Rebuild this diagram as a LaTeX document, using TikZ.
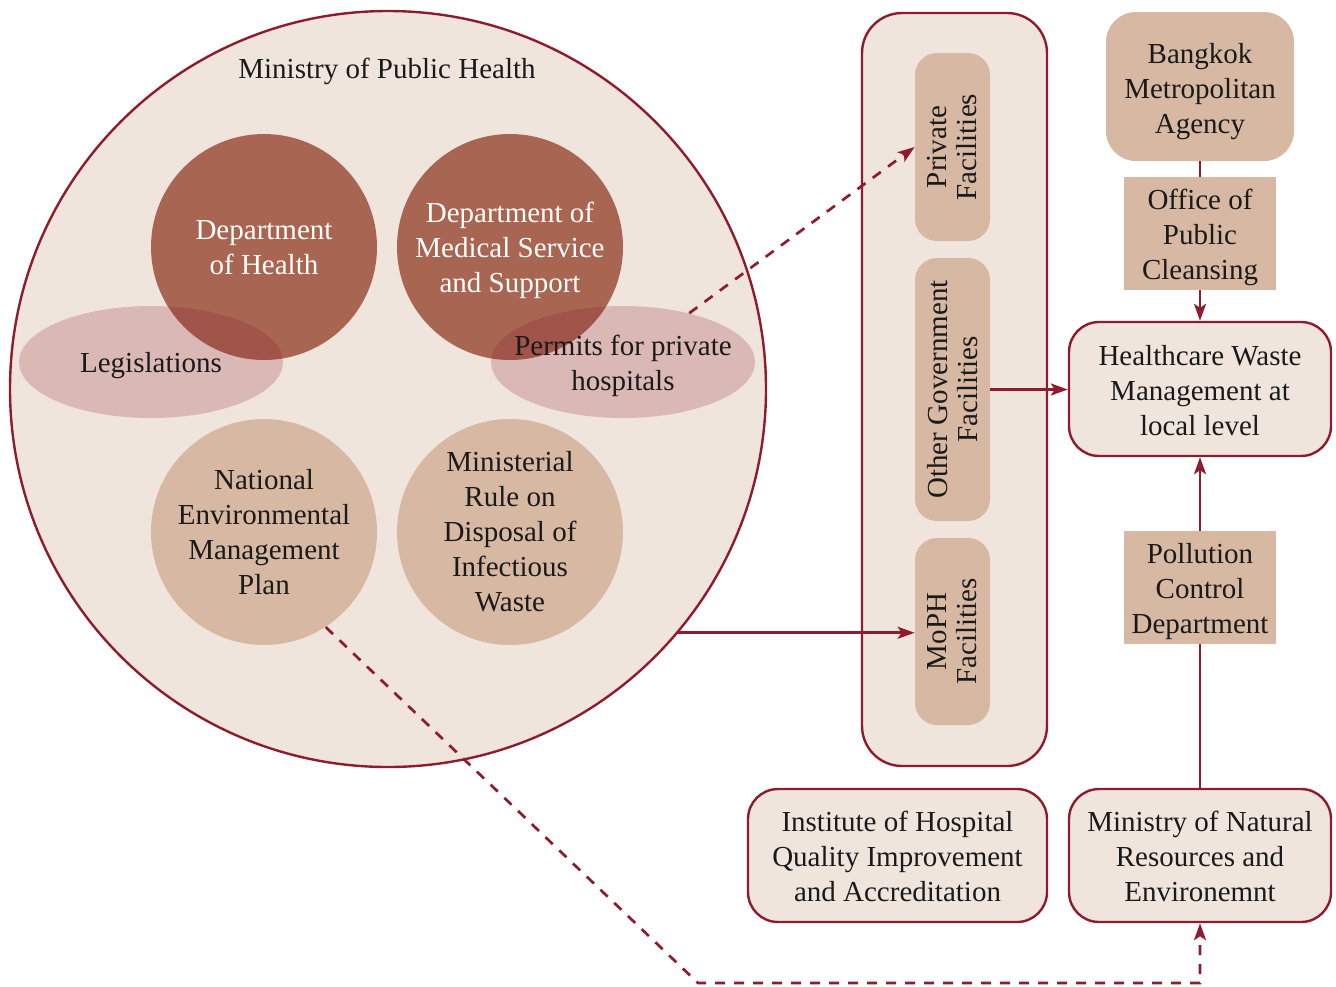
\documentclass[tikz,border=0pt]{standalone}
\usepackage{fontspec}
\setmainfont{Liberation Serif}
\usetikzlibrary{shapes.geometric,arrows.meta}
\definecolor{mar}{HTML}{8C1C2E}
\definecolor{lite}{HTML}{F0E5DD}
\definecolor{tanc}{HTML}{D7B8A2}
\definecolor{darkc}{HTML}{A86551}
\definecolor{txt}{HTML}{1A1A1A}
\begin{document}
\begin{tikzpicture}[x=0.5pt,y=-0.5pt,
  font=\fontsize{14.5}{17.5}\selectfont, text=txt,
  bdr/.style={draw=mar,line width=1.2pt,fill=lite},
  wtxt/.style={text=white,align=center,fill opacity=1,text opacity=1},
  btxt/.style={text=txt,align=center,fill opacity=1,text opacity=1},
  rot/.style={rotate=90,align=center,text=txt,font=\fontsize{14.5}{15}\selectfont},
  dcirc/.style={circle,fill=darkc,minimum size=113pt,inner sep=0pt},
  tcirc/.style={circle,fill=tanc,minimum size=113pt,inner sep=0pt},
  pell/.style={ellipse,fill=mar,fill opacity=0.22,minimum width=132pt,minimum height=56pt,inner sep=0pt},
  fbox/.style={rectangle,rounded corners=11pt,fill=tanc,minimum width=37.5pt,inner sep=0pt},
  sqbox/.style={rectangle,fill=tanc,minimum width=76pt,minimum height=56.5pt,inner sep=0pt},
  rbox/.style={rectangle,bdr,rounded corners=15pt,minimum height=67pt},
  plain/.style={draw=mar,line width=1.35pt},
  conn/.style={plain,-{Stealth[length=8.5pt,width=6pt,inset=2pt]}},
  dconn/.style={conn,dash pattern=on 5pt off 4.5pt}
]
\useasboundingbox (0,0) rectangle (1336,986);

% Ministry of Public Health
\node[circle,bdr,minimum size=378pt,inner sep=0pt] (mph) at (388,389) {};
\node (title) at (387,71) {Ministry of Public Health};
\node[dcirc,label={[wtxt,yshift=-0.5pt]center:Department\\of Health}] (doh) at (264,247) {};
\node[dcirc,label={[wtxt,yshift=-1.5pt]center:Department of\\Medical Service\\and Support}] (dms) at (510,247) {};
\node[tcirc,label={[btxt]center:National\\Environmental\\Management\\Plan}] (nemp) at (264,532) {};
\node[tcirc,label={[btxt]center:Ministerial\\Rule on\\Disposal of\\Infectious\\Waste}] (mrule) at (510,532) {};
\node[pell,label={[btxt,yshift=-2pt]center:Legislations}] (leg) at (151,362) {};
\node[pell,label={[btxt,yshift=-2pt]center:Permits for private\\hospitals}] (perm) at (623,362) {};

% facilities container
\node[rectangle,bdr,rounded corners=20pt,minimum width=92.5pt,minimum height=376.5pt] (cont) at (954.5,389.5) {};
\node[fbox,minimum height=94pt,label={[rot]center:Private\\Facilities}] (priv) at (952.5,147) {};
\node[fbox,minimum height=131.5pt,label={[rot]center:Other Government\\Facilities}] (ogf) at (952.5,389.5) {};
\node[fbox,minimum height=93.5pt,label={[rot]center:MoPH\\Facilities}] (moph) at (952.5,631.5) {};

% right column
\node[rectangle,rounded corners=15pt,fill=tanc,minimum width=94pt,minimum height=74.5pt,label={[btxt,yshift=-2.5pt]center:Bangkok\\Metropolitan\\Agency}] (bma) at (1200,86.5) {};
\node[sqbox,label={[btxt,yshift=-2pt]center:Office of\\Public\\Cleansing}] (opc) at (1200,233.5) {};
\node[rbox,minimum width=131pt,label={[btxt,yshift=-1pt]center:Healthcare Waste\\Management at\\local level}] (hcw) at (1200,389) {};
\node[sqbox,label={[btxt,yshift=-2pt]center:Pollution\\Control\\Department}] (pcd) at (1200,587.5) {};
\node[rbox,minimum width=131pt,minimum height=66.5pt,label={[btxt,yshift=-0.5pt]center:Ministry of Natural\\Resources and\\Environemnt}] (mnre) at (1200,855.5) {};
\node[rbox,minimum width=149.5pt,minimum height=66.5pt,label={[btxt,yshift=-0.5pt]center:Institute of Hospital\\Quality Improvement\\and Accreditation}] (ihqi) at (897.5,855.5) {};

% connectors
\draw[dconn] (perm) -- (priv.west);
\draw[conn] (mph.-40) -- (mph.-40 -| moph.west);
\draw[conn] (ogf.east) -- (ogf.east -| hcw.west);
\draw[plain] (bma.south) -- (opc.north);
\draw[conn] (opc.south) -- (hcw.north);
\draw[plain] (mnre.north) -- (pcd.south);
\draw[conn] (pcd.north) -- (hcw.south);
\coordinate (bend) at (698,983);
\draw[dconn] (nemp.-57) -- (bend) -| (mnre.south);
\end{tikzpicture}
\end{document}
